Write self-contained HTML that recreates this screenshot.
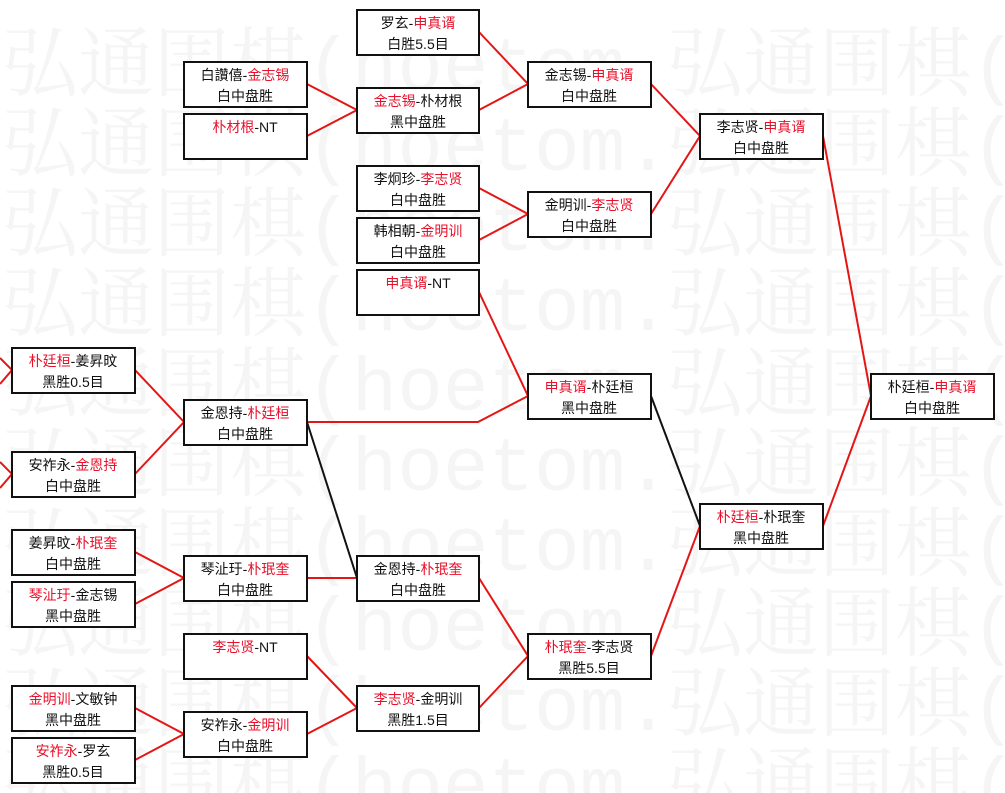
<!DOCTYPE html>
<html><head><meta charset="utf-8"><style>
html,body{margin:0;background:#fff;width:1005px;height:793px;overflow:hidden;}
svg{display:block;}
.wm{font-family:"Liberation Mono","Noto Serif CJK SC",monospace;font-size:76px;fill:#f5f5f5;}
.t{font-family:"Liberation Sans","Noto Sans CJK SC",sans-serif;font-size:14px;fill:#111;text-anchor:middle;}
.r{fill:#e8102a;}
.b{fill:#fff;stroke:#111;stroke-width:2;}
.l{stroke:#e41515;stroke-width:2;fill:none;}
.k{stroke:#111;stroke-width:2;fill:none;}
</style></head><body>
<svg width="1005" height="793" viewBox="0 0 1005 793" xmlns="http://www.w3.org/2000/svg">
<defs><clipPath id="c1"><rect x="0" y="0" width="665" height="793"/></clipPath>
<clipPath id="c2"><rect x="665" y="0" width="340" height="793"/></clipPath></defs>
<g class="wm">
<g clip-path="url(#c1)">
<text x="2" y="90">弘通围棋(hoetom.com)</text>
<text x="2" y="170">弘通围棋(hoetom.com)</text>
<text x="2" y="250">弘通围棋(hoetom.com)</text>
<text x="2" y="330">弘通围棋(hoetom.com)</text>
<text x="2" y="410">弘通围棋(hoetom.com)</text>
<text x="2" y="490">弘通围棋(hoetom.com)</text>
<text x="2" y="570">弘通围棋(hoetom.com)</text>
<text x="2" y="650">弘通围棋(hoetom.com)</text>
<text x="2" y="730">弘通围棋(hoetom.com)</text>
<text x="2" y="810">弘通围棋(hoetom.com)</text>
</g>
<g clip-path="url(#c2)">
<text x="667" y="90">弘通围棋(hoetom.com)</text>
<text x="667" y="170">弘通围棋(hoetom.com)</text>
<text x="667" y="250">弘通围棋(hoetom.com)</text>
<text x="667" y="330">弘通围棋(hoetom.com)</text>
<text x="667" y="410">弘通围棋(hoetom.com)</text>
<text x="667" y="490">弘通围棋(hoetom.com)</text>
<text x="667" y="570">弘通围棋(hoetom.com)</text>
<text x="667" y="650">弘通围棋(hoetom.com)</text>
<text x="667" y="730">弘通围棋(hoetom.com)</text>
<text x="667" y="810">弘通围棋(hoetom.com)</text>
</g>
</g>
<g class="l">
<polyline points="0,358 12,370 0,384"/>
<polyline points="0,462 12,474 0,488"/>
<polyline points="135,370 184,422 135,474"/>
<polyline points="135,552 184,578 135,604"/>
<polyline points="135,708 184,734 135,760"/>
<polyline points="307,84 357,110 307,136"/>
<polyline points="307,578 357,578"/>
<polyline points="307,656 357,708 307,734"/>
<polyline points="479,32 528,84 479,110"/>
<polyline points="479,188 528,214 479,240"/>
<polyline points="479,292 528,396"/>
<polyline points="307,422 478,422 528,396"/>
<polyline points="479,578 528,656 479,708"/>
<polyline points="651,84 700,136 651,214"/>
<polyline points="651,656 700,526"/>
<polyline points="823,136 871,396 823,526"/>
</g>
<g class="k">
<line x1="307" y1="422" x2="357" y2="578"/>
<line x1="651" y1="396" x2="700" y2="526"/>
</g>
<g>
<rect class="b" x="12" y="348" width="123" height="45"/>
<text class="t" x="73" y="366"><tspan class="r">朴廷桓</tspan>-姜昇旼</text><text class="t" x="73" y="387">黑胜0.5目</text>
<rect class="b" x="12" y="452" width="123" height="45"/>
<text class="t" x="73" y="470">安祚永-<tspan class="r">金恩持</tspan></text><text class="t" x="73" y="491">白中盘胜</text>
<rect class="b" x="12" y="530" width="123" height="45"/>
<text class="t" x="73" y="548">姜昇旼-<tspan class="r">朴珉奎</tspan></text><text class="t" x="73" y="569">白中盘胜</text>
<rect class="b" x="12" y="582" width="123" height="45"/>
<text class="t" x="73" y="600"><tspan class="r">琴沚玗</tspan>-金志锡</text><text class="t" x="73" y="621">黑中盘胜</text>
<rect class="b" x="12" y="686" width="123" height="45"/>
<text class="t" x="73" y="704"><tspan class="r">金明训</tspan>-文敏钟</text><text class="t" x="73" y="725">黑中盘胜</text>
<rect class="b" x="12" y="738" width="123" height="45"/>
<text class="t" x="73" y="756"><tspan class="r">安祚永</tspan>-罗玄</text><text class="t" x="73" y="777">黑胜0.5目</text>

<rect class="b" x="184" y="62" width="123" height="45"/>
<text class="t" x="245" y="80">白讚僖-<tspan class="r">金志锡</tspan></text><text class="t" x="245" y="101">白中盘胜</text>
<rect class="b" x="184" y="114" width="123" height="45"/>
<text class="t" x="245" y="132"><tspan class="r">朴材根</tspan>-NT</text>
<rect class="b" x="184" y="400" width="123" height="45"/>
<text class="t" x="245" y="418">金恩持-<tspan class="r">朴廷桓</tspan></text><text class="t" x="245" y="439">白中盘胜</text>
<rect class="b" x="184" y="556" width="123" height="45"/>
<text class="t" x="245" y="574">琴沚玗-<tspan class="r">朴珉奎</tspan></text><text class="t" x="245" y="595">白中盘胜</text>
<rect class="b" x="184" y="634" width="123" height="45"/>
<text class="t" x="245" y="652"><tspan class="r">李志贤</tspan>-NT</text>
<rect class="b" x="184" y="712" width="123" height="45"/>
<text class="t" x="245" y="730">安祚永-<tspan class="r">金明训</tspan></text><text class="t" x="245" y="751">白中盘胜</text>

<rect class="b" x="357" y="10" width="122" height="45"/>
<text class="t" x="418" y="28">罗玄-<tspan class="r">申真谞</tspan></text><text class="t" x="418" y="49">白胜5.5目</text>
<rect class="b" x="357" y="88" width="122" height="45"/>
<text class="t" x="418" y="106"><tspan class="r">金志锡</tspan>-朴材根</text><text class="t" x="418" y="127">黑中盘胜</text>
<rect class="b" x="357" y="166" width="122" height="45"/>
<text class="t" x="418" y="184">李炯珍-<tspan class="r">李志贤</tspan></text><text class="t" x="418" y="205">白中盘胜</text>
<rect class="b" x="357" y="218" width="122" height="45"/>
<text class="t" x="418" y="236">韩相朝-<tspan class="r">金明训</tspan></text><text class="t" x="418" y="257">白中盘胜</text>
<rect class="b" x="357" y="270" width="122" height="45"/>
<text class="t" x="418" y="288"><tspan class="r">申真谞</tspan>-NT</text>
<rect class="b" x="357" y="556" width="122" height="45"/>
<text class="t" x="418" y="574">金恩持-<tspan class="r">朴珉奎</tspan></text><text class="t" x="418" y="595">白中盘胜</text>
<rect class="b" x="357" y="686" width="122" height="45"/>
<text class="t" x="418" y="704"><tspan class="r">李志贤</tspan>-金明训</text><text class="t" x="418" y="725">黑胜1.5目</text>

<rect class="b" x="528" y="62" width="123" height="45"/>
<text class="t" x="589" y="80">金志锡-<tspan class="r">申真谞</tspan></text><text class="t" x="589" y="101">白中盘胜</text>
<rect class="b" x="528" y="192" width="123" height="45"/>
<text class="t" x="589" y="210">金明训-<tspan class="r">李志贤</tspan></text><text class="t" x="589" y="231">白中盘胜</text>
<rect class="b" x="528" y="374" width="123" height="45"/>
<text class="t" x="589" y="392"><tspan class="r">申真谞</tspan>-朴廷桓</text><text class="t" x="589" y="413">黑中盘胜</text>
<rect class="b" x="528" y="634" width="123" height="45"/>
<text class="t" x="589" y="652"><tspan class="r">朴珉奎</tspan>-李志贤</text><text class="t" x="589" y="673">黑胜5.5目</text>

<rect class="b" x="700" y="114" width="123" height="45"/>
<text class="t" x="761" y="132">李志贤-<tspan class="r">申真谞</tspan></text><text class="t" x="761" y="153">白中盘胜</text>
<rect class="b" x="700" y="504" width="123" height="45"/>
<text class="t" x="761" y="522"><tspan class="r">朴廷桓</tspan>-朴珉奎</text><text class="t" x="761" y="543">黑中盘胜</text>

<rect class="b" x="871" y="374" width="123" height="45"/>
<text class="t" x="932" y="392">朴廷桓-<tspan class="r">申真谞</tspan></text><text class="t" x="932" y="413">白中盘胜</text>
</g>
</svg>
</body></html>
